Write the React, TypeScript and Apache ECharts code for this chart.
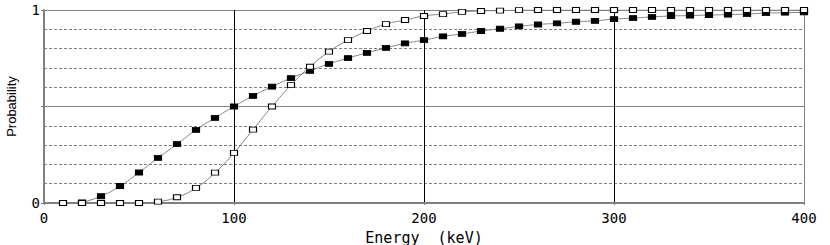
import React, { useEffect, useRef } from "react";
import * as echarts from "echarts";

const energyOpen = [10,20,30,40,50,60,70,80,90,100,110,120,130,140,150,160,170,180,190,200,210,220,230,240,250,260,270,280,290,300,310,320,330,340,350,360,370,380,390,400];
const probOpen = [0,0,0,0,0,0.007,0.03,0.078,0.157,0.26,0.38,0.5,0.611,0.706,0.784,0.844,0.891,0.927,0.948,0.969,0.979,0.99,0.995,0.997,0.999,1,1,1,1,1,1,1,1,1,1,1,1,1,1,1];
const energyFilled = [20,30,40,50,60,70,80,90,100,110,120,130,140,150,160,170,180,190,200,210,220,230,240,250,260,270,280,290,300,310,320,330,340,350,360,370,380,390,400];
const probFilled = [0.003,0.035,0.088,0.158,0.234,0.305,0.379,0.441,0.5,0.555,0.603,0.647,0.685,0.721,0.751,0.778,0.804,0.827,0.844,0.863,0.876,0.891,0.903,0.915,0.925,0.931,0.939,0.944,0.953,0.958,0.964,0.969,0.971,0.974,0.976,0.979,0.984,0.986,0.988];
const xTicks = [0, 100, 200, 300, 400];
const yLabels = [0, 1];

export default function App() {
  const ref = useRef<HTMLDivElement>(null);
  useEffect(() => {
    if (!ref.current) return;
    const chart = echarts.init(ref.current, undefined, { renderer: "svg" });
    const mono = "DejaVu Sans Mono";
    chart.setOption({
      animation: false,
      backgroundColor: "#fff",
      grid: { left: 44, right: 26, top: 10, bottom: 42, containLabel: false, outerBoundsMode: "none" },
      xAxis: {
        type: "value",
        min: xTicks[0],
        max: xTicks[xTicks.length - 1],
        interval: 100,
        name: "Energy  (keV)",
        nameLocation: "middle",
        nameGap: 27,
        nameTextStyle: { fontFamily: mono, fontSize: 15, color: "#000" },
        axisLine: { show: true, lineStyle: { color: "#808080", width: 2 } },
        axisTick: { show: true, length: 2, lineStyle: { color: "#808080" } },
        axisLabel: { fontFamily: mono, fontSize: 14, color: "#000", margin: 8 },
        splitLine: {
          show: true,
          lineStyle: { color: ["#808080", "#000", "#000", "#000", "#808080"], width: 1 },
        },
      },
      yAxis: {
        type: "value",
        min: 0,
        max: 1,
        interval: 0.5,
        name: "Probability",
        nameLocation: "middle",
        nameGap: 26,
        nameRotate: 90,
        nameTextStyle: { fontFamily: "Liberation Sans Narrow, Liberation Sans", fontSize: 13, color: "#000" },
        axisLine: { show: true, lineStyle: { color: "#808080", width: 2 } },
        axisTick: { show: true, length: 3, lineStyle: { color: "#808080" } },
        axisLabel: {
          fontFamily: mono,
          fontSize: 14,
          color: "#000",
          margin: 4,
          formatter: (v: number) => (yLabels.includes(v) ? String(v) : ""),
        },
        splitLine: { show: true, lineStyle: { color: "#808080", width: 1 } },
        minorTick: { show: false, splitNumber: 5 },
        minorSplitLine: { show: true, lineStyle: { color: "#808080", width: 1, type: [3, 2] } },
      },
      series: [
        {
          type: "line",
          name: "filled",
          data: energyFilled.map((e, i) => [e, probFilled[i]]),
          smooth: true,
          symbol: "rect",
          symbolSize: [7, 5],
          showAllSymbol: true,
          lineStyle: { color: "#808080", width: 1 },
          itemStyle: { color: "#000", borderColor: "#000", borderWidth: 1 },
          z: 3,
        },
        {
          type: "line",
          name: "open",
          data: energyOpen.map((e, i) => [e, probOpen[i]]),
          smooth: true,
          symbol: "rect",
          symbolSize: [7, 5],
          showAllSymbol: true,
          lineStyle: { color: "#808080", width: 1 },
          itemStyle: { color: "#fff", borderColor: "#000", borderWidth: 1 },
          z: 4,
        },
      ],
    });
    return () => chart.dispose();
  }, []);
  return (
    <div
      ref={ref}
      style={{ position: "fixed", left: 0, top: 0, width: 830, height: 245, background: "#fff" }}
    />
  );
}
